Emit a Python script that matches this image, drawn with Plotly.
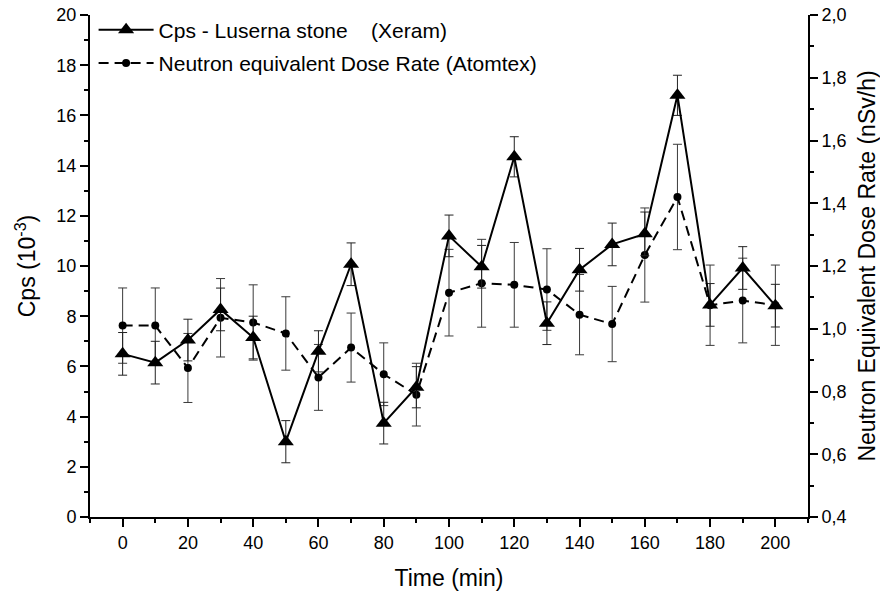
import plotly.graph_objects as go

# ---- data ----
time_min = [0, 10, 20, 30, 40, 50, 60, 70, 80, 90, 100,
            110, 120, 130, 140, 150, 160, 170, 180, 190, 200]
cps = [6.5, 6.15, 7.05, 8.27, 7.15, 3.0, 6.6, 10.07, 3.74, 5.17, 11.2,
       9.97, 14.35, 7.72, 9.85, 10.86, 11.28, 16.8, 8.45, 9.92, 8.42]
cps_err = [0.85, 0.85, 0.83, 0.85, 0.85, 0.84, 0.82, 0.85, 0.83, 0.82, 0.83,
           0.85, 0.8, 0.85, 0.85, 0.85, 0.87, 0.8, 0.85, 0.85, 0.85]
dose = [1.01, 1.01, 0.875, 1.035, 1.02, 0.985, 0.845, 0.94, 0.855, 0.79, 1.115,
        1.145, 1.14, 1.125, 1.045, 1.015, 1.235, 1.42, 1.075, 1.09, 1.075]
dose_err = [0.12, 0.12, 0.11, 0.125, 0.12, 0.117, 0.105, 0.11, 0.10, 0.10, 0.138,
            0.14, 0.135, 0.13, 0.128, 0.12, 0.15, 0.168, 0.128, 0.135, 0.128]

name_cps = "Cps - Luserna stone\u00a0\u00a0\u00a0\u00a0(Xeram)"
name_dose = "Neutron equivalent Dose Rate (Atomtex)"

FONT = "Arial, Liberation Sans, sans-serif"

fig = go.Figure()

fig.add_trace(go.Scatter(
    x=time_min, y=cps, name=name_cps, yaxis="y2", mode="lines+markers",
    line=dict(color="black", width=2),
    marker=dict(symbol="triangle-up", size=14, color="black"),
    error_y=dict(type="data", array=cps_err, visible=True,
                 color="#222222", thickness=1, width=4.5),
    legendgroup="a",
))
fig.add_trace(go.Scatter(
    x=time_min, y=dose, name=name_dose, yaxis="y", mode="lines+markers",
    line=dict(color="black", width=2, dash="10px,6px"),
    marker=dict(symbol="circle", size=8, color="black"),
    error_y=dict(type="data", array=dose_err, visible=True,
                 color="#3a3a3a", thickness=1, width=4.5),
    legendgroup="b",
))

axis_common = dict(
    showline=True, linecolor="black", linewidth=2,
    ticks="outside", ticklen=8, tickwidth=2, tickcolor="black",
    showgrid=False, zeroline=False, automargin=False,
    tickfont=dict(family=FONT, size=18, color="black"),
)

fig.update_layout(
    width=880, height=594,
    margin=dict(l=90, r=72, t=15, b=77, autoexpand=False),
    paper_bgcolor="white", plot_bgcolor="white",
    separators=",.",
    font=dict(family=FONT, color="black"),
    showlegend=True,
    legend=dict(
        x=0.005, y=1.011, xanchor="left", yanchor="top",
        bgcolor="rgba(0,0,0,0)", borderwidth=0,
        font=dict(family=FONT, size=21, color="black"),
        itemwidth=55, tracegroupgap=3,
    ),
    xaxis=dict(
        range=[-10, 210], tickmode="linear", tick0=0, dtick=20,
        minor=dict(dtick=10, ticklen=4, tickwidth=2, tickcolor="black", ticks="outside"),
        title=dict(text="Time (min)", font=dict(family=FONT, size=23), standoff=18),
        **axis_common,
    ),
    yaxis=dict(
        range=[0.4, 2.0], side="right", tickmode="linear", tick0=0.4, dtick=0.2,
        tickformat=".1f",
        minor=dict(dtick=0.1, ticklen=4, tickwidth=2, tickcolor="black", ticks="outside"),
        title=dict(text="Neutron Equivalent Dose Rate (nSv/h)",
                   font=dict(family=FONT, size=23), standoff=22),
        **axis_common,
    ),
    yaxis2=dict(
        range=[0, 20], side="left", overlaying="y", anchor="x",
        tickmode="linear", tick0=0, dtick=2,
        minor=dict(dtick=1, ticklen=4, tickwidth=2, tickcolor="black", ticks="outside"),
        title=dict(text="Cps (10<sup>-3</sup>)", font=dict(family=FONT, size=23), standoff=14),
        **axis_common,
    ),
)

fig.write_html("out.html")
